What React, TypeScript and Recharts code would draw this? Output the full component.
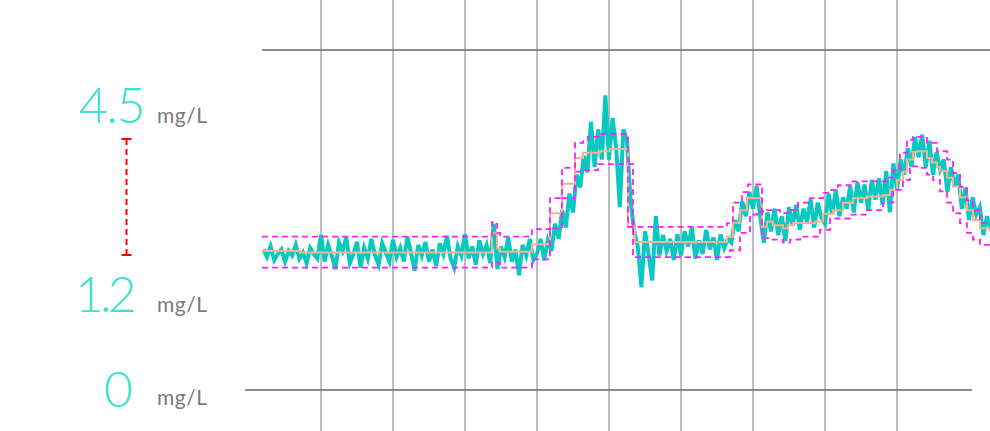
import React from 'react';
import { ComposedChart, Line, XAxis, YAxis, ReferenceLine } from 'recharts';

// Dissolved oxygen readings (mg/L), sampled every 3 minutes starting at minute 12
const SAMPLE_START = 12;
const SAMPLE_STEP = 3;
const oxygenReadings = [
  1.86, 1.76, 1.90, 1.72, 1.80, 1.86, 1.70, 1.84, 1.78, 1.92, 1.74, 1.82, 1.68, 1.88, 1.80, 1.74,
  2.05, 1.70, 1.92, 1.78, 1.60, 1.95, 1.84, 2.02, 1.68, 1.80, 1.96, 1.62, 1.88, 1.74, 2.00, 1.78, 1.66, 1.94, 1.82, 1.70,
  1.99, 1.76, 1.88, 1.70, 2.03, 1.82, 1.58, 1.92, 1.78, 1.96, 1.70, 1.86, 1.64, 1.94, 1.80, 2.04, 1.74, 1.62, 1.90, 1.78,
  2.06, 1.74, 1.90, 1.66, 1.98, 1.80, 1.92, 1.68, 2.20, 1.60, 1.90, 1.76, 2.02, 1.70, 1.86, 1.52, 1.92, 1.78, 2.00, 1.72,
  1.80, 2.00, 1.72, 1.98, 1.84, 2.20, 2.00, 2.38, 2.15, 2.60, 2.35, 2.85, 2.68, 3.10, 2.88, 3.55, 2.95, 3.45, 3.05, 3.90,
  3.05, 3.60, 3.20, 2.42, 3.45, 3.30, 2.50, 2.10, 1.90, 1.36, 2.10, 1.80, 1.45, 2.30, 1.78, 2.05, 1.84, 2.00, 1.72, 2.06,
  1.78, 2.10, 1.90, 2.15, 1.74, 1.98, 1.80, 2.12, 1.86, 2.02, 1.72, 2.06, 1.88, 2.00, 1.95, 2.25, 2.10, 2.50, 2.30, 2.62,
  2.40, 2.70, 2.30, 1.95, 2.35, 2.10, 2.40, 2.05, 2.30, 1.97, 2.42, 2.18, 2.45, 2.12, 2.40, 2.22, 2.52, 2.15, 2.48, 2.28,
  2.20, 2.60, 2.32, 2.65, 2.30, 2.55, 2.40, 2.70, 2.35, 2.75, 2.48, 2.72, 2.38, 2.78, 2.52, 2.80, 2.45, 2.90, 2.35, 3.00,
  2.65, 3.05, 2.85, 3.20, 2.95, 3.35, 3.08, 3.38, 2.95, 3.30, 2.85, 3.15, 2.92, 3.05, 2.62, 2.95, 2.70, 2.85, 2.40, 2.68,
  2.25, 2.55, 2.32, 2.42, 2.05, 2.30, 2.12,
];

// Smoothed trend (step)
const trendTimes = [
  10.8, 42.5, 202.5, 206.7, 209.2, 235.8, 250.8, 260.8, 271.7, 278.3, 292.5, 300.8, 315.8, 321.7,
  398.3, 403.3, 409.2, 415, 427.5, 431.7, 436.7, 445, 449.2, 453.3, 471.7, 478.3, 486.7, 495, 503.3,
  515, 528.3, 534.2, 540, 545, 548.3, 553.3, 556.7, 565, 569.2, 573.3, 575.8, 581.7, 586.7, 592.5,
  598.3, 603.3, 609.2, 617.5,
];
const trendValues = [
  1.84, 1.82, 2.08, 1.88, 1.83, 1.93, 2.34, 2.73, 3.07, 3.14, 3.16, 3.19, 2.16, 1.96,
  2.03, 2.21, 2.38, 2.54, 2.16, 2.23, 2.18, 2.14, 2.18, 2.21, 2.23, 2.33, 2.38, 2.48, 2.54,
  2.56, 2.58, 2.65, 2.78, 2.89, 3.05, 3.15, 3.16, 3.07, 3.01, 2.95, 2.90, 2.81, 2.69, 2.55,
  2.38, 2.25, 2.14, 2.10,
];

// Upper tolerance band
const upperTimes = [
  10.8, 202.5, 206.7, 209.2, 235.8, 250.8, 260.8, 271.7, 278.3, 282.5, 292.5, 315.8,
  398.3, 403.3, 410.8, 415.8, 427.5, 431.7, 442.5, 450.8, 457.5, 467.5, 478.3, 482.5, 490.8,
  503.3, 530, 536.7, 542.5, 548.3, 553.3, 565, 573.3, 581.7, 586.7, 592.5, 598.3, 603.3, 609.2, 617.5,
];
const upperValues = [
  2.03, 2.22, 2.08, 2.03, 2.13, 2.54, 2.94, 3.27, 3.29, 3.35, 3.39, 2.16,
  2.21, 2.48, 2.62, 2.72, 2.36, 2.38, 2.34, 2.38, 2.48, 2.54, 2.61, 2.65, 2.71,
  2.76, 2.81, 2.91, 3.14, 3.31, 3.35, 3.27, 3.16, 3.05, 2.87, 2.69, 2.51, 2.38, 2.21, 2.21,
];

// Lower tolerance band
const lowerTimes = [
  10.8, 202.5, 209.2, 235.8, 250.8, 260.8, 271.7, 278.3, 290.8, 320,
  400.8, 409.2, 417.5, 423.3, 427.5, 434.2, 445, 450.8, 459.2, 475.8, 484.2, 500.8,
  515, 528.3, 536.7, 545, 550.8, 559.2, 565, 570, 575.8, 581.7, 586.7, 592.5, 598.3, 603.3, 609.2, 617.5,
];
const lowerValues = [
  1.62, 1.69, 1.62, 1.73, 2.14, 2.54, 2.89, 2.91, 2.99, 1.76,
  1.85, 2.08, 2.32, 2.36, 2.01, 1.99, 1.95, 1.99, 2.03, 2.12, 2.27, 2.32,
  2.38, 2.48, 2.65, 2.78, 2.96, 2.94, 2.85, 2.78, 2.63, 2.48, 2.34, 2.21, 2.08, 1.99, 1.92, 1.92,
];

const gridMinutes = [60, 120, 180, 240, 300, 360, 420, 480, 540];
const scaleLabels = ['4.5', '1.2', '0'];
const unitLabel = 'mg/L';

const readingData = oxygenReadings.map((v, i) => ({ t: SAMPLE_START + i * SAMPLE_STEP, v }));
const trendData = trendTimes.map((t, i) => ({ t, v: trendValues[i] }));
const upperData = upperTimes.map((t, i) => ({ t, v: upperValues[i] }));
const lowerData = lowerTimes.map((t, i) => ({ t, v: lowerValues[i] }));

const X_DOMAIN: [number, number] = [10.833, 617.5];
const Y_DOMAIN: [number, number] = [-0.5426, 5.1618];

export default function App() {
  const fontDigits = 'Lato, "Open Sans", sans-serif';
  return (
    <div style={{ position: 'absolute', left: 0, top: 0, width: 990, height: 431, background: '#fff' }}>
      <ComposedChart
        width={990}
        height={431}
        margin={{ top: 0, right: 0, bottom: 0, left: 262 }}
        style={{ position: 'absolute', left: 0, top: 0 }}
      >
        <XAxis dataKey="t" type="number" domain={X_DOMAIN} allowDataOverflow hide />
        <YAxis type="number" domain={Y_DOMAIN} allowDataOverflow hide />
        {gridMinutes.map((m) => (
          <ReferenceLine key={m} x={m} stroke="#a2a8a8" strokeWidth={1.5} />
        ))}
        <ReferenceLine
          segment={[{ x: X_DOMAIN[0], y: 4.5 }, { x: X_DOMAIN[1], y: 4.5 }]}
          stroke="#5f6969"
          strokeWidth={1.6}
          ifOverflow="visible"
        />
        <ReferenceLine
          segment={[{ x: -3.33, y: 0 }, { x: 602.5, y: 0 }]}
          stroke="#5f6969"
          strokeWidth={1.6}
          ifOverflow="visible"
        />
        <Line
          data={readingData}
          dataKey="v"
          type="linear"
          stroke="#08c9c1"
          strokeWidth={4}
          dot={false}
          isAnimationActive={false}
        />
        <Line
          data={trendData}
          dataKey="v"
          type="stepAfter"
          stroke="#f5b28c"
          strokeWidth={2}
          dot={false}
          isAnimationActive={false}
        />
        <Line
          data={upperData}
          dataKey="v"
          type="stepAfter"
          stroke="#ff1cff"
          strokeWidth={1.8}
          strokeDasharray="6 4"
          dot={false}
          isAnimationActive={false}
        />
        <Line
          data={lowerData}
          dataKey="v"
          type="stepAfter"
          stroke="#ff1cff"
          strokeWidth={1.8}
          strokeDasharray="6 4"
          dot={false}
          isAnimationActive={false}
        />
      </ComposedChart>
      <svg width={262} height={431} style={{ position: 'absolute', left: 0, top: 0 }}>
        <text x={79} y={122.7} fontSize={50} fontWeight={300} fill="#40e0d0" fontFamily={fontDigits} letterSpacing={-1.5}>
          {scaleLabels[0]}
        </text>
        <text x={75} y={311.7} fontSize={50} fontWeight={300} fill="#40e0d0" fontFamily={fontDigits} letterSpacing={-4}>
          {scaleLabels[1]}
        </text>
        <text x={104} y={407} fontSize={50} fontWeight={300} fill="#40e0d0" fontFamily={fontDigits}>
          {scaleLabels[2]}
        </text>
        {[123.3, 311.7, 405].map((y) => (
          <text key={y} x={157} y={y} fontSize={21} fill="#7a7a7a" fontFamily={fontDigits} letterSpacing={0.5}>
            {unitLabel}
          </text>
        ))}
        <line x1={126.5} y1={139} x2={126.5} y2={255} stroke="#ff0000" strokeWidth={2} strokeDasharray="6 4" />
        <line x1={121.5} y1={139} x2={131.5} y2={139} stroke="#ff0000" strokeWidth={2} />
        <line x1={121.5} y1={255} x2={131.5} y2={255} stroke="#ff0000" strokeWidth={2} />
      </svg>
    </div>
  );
}
